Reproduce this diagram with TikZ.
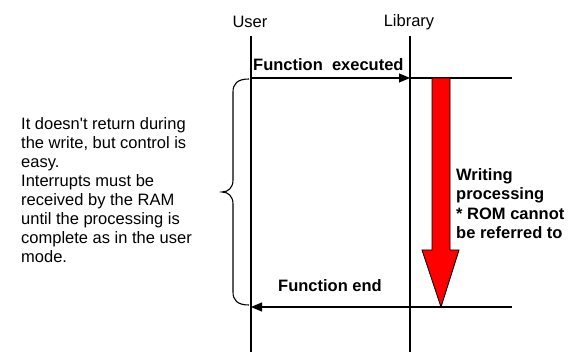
\documentclass[tikz,border=0pt]{standalone}
\usepackage{fontspec}
\setmainfont{Liberation Sans}
\usetikzlibrary{arrows.meta}
\begin{document}
\begin{tikzpicture}[x=1pt,y=-1pt]

\tikzset{lbl/.style={inner sep=0pt,font=\fontsize{16.5}{19}\selectfont,align=left},}
\tikzset{boldtxt/.style={inner sep=0pt,font=\fontsize{16.5}{19.6}\selectfont\bfseries,align=left},}
\tikzset{msg/.style={-{Triangle[length=11pt,width=9pt]},line width=1.2pt},}

\useasboundingbox (0,0) rectangle (573,352);

  \draw (250,22) node[lbl](user) {User};
  \draw (409,22) node[lbl](lib) {Library};
  \coordinate (usertop) at (251,36);
  \coordinate (userbot) at (251,352);
  \coordinate (libtop) at (410,36);
  \coordinate (libbot) at (410,352);
  \coordinate (callu) at (251,78);
  \coordinate (calll) at (410,78);
  \coordinate (callend) at (512,78);
  \coordinate (retu) at (251,307);
  \coordinate (retend) at (512,307);

  %lifelines
    \draw[line width=1.2pt] (usertop) -- (userbot);
    \draw[line width=1.2pt] (libtop) -- (libbot);

  %calls
    \draw[msg] (callu) -- (calll);
    \draw[line width=1.2pt] (calll) -- (callend);
    \draw[msg] (retend) -- (retu);

  \draw (253,71) node[boldtxt,anchor=base west](exec) {Function\ \ executed};
  \draw (278,292) node[boldtxt,anchor=base west](fend) {Function end};

  %writing arrow
    \draw[fill=red,line width=0.9pt] (432,78) -- (450,78) -- (450,250) -- (459,250)
      -- (441,307) -- (422,250) -- (432,250) -- cycle;
  \draw (456,168) node[boldtxt,anchor=north west](write) {Writing\\processing\\* ROM cannot\\be referred to};

  %brace and note
    \draw[line width=1.1pt] (249,79) .. controls (237,79) and (233,84) .. (233,92) -- (233,180)
      .. controls (233,188) and (228,192) .. (222,192) .. controls (228,192) and (233,196) .. (233,204)
      -- (233,292) .. controls (233,300) and (237,305) .. (249,305);
  \draw (21,117) node[lbl,anchor=north west](note) {It doesn\textquotesingle t return during\\the write, but control is\\easy.\\Interrupts must be\\received by the RAM\\until the processing is\\complete as in the user\\mode.};

\end{tikzpicture}
\end{document}
